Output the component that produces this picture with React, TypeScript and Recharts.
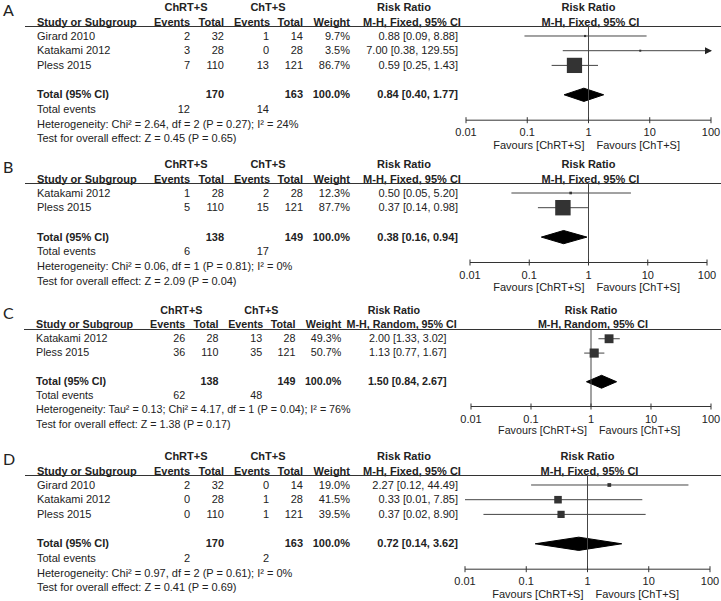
import React from "react"
import { ComposedChart, XAxis, YAxis, Scatter, Line, Area, ReferenceLine } from "recharts"

// ---- data ----
const panelLetters = ["A", "B", "C", "D"]
const groupTx = "ChRT+S"
const groupCt = "ChT+S"
const methodLabels = ["M-H, Fixed, 95% CI", "M-H, Fixed, 95% CI", "M-H, Random, 95% CI", "M-H, Fixed, 95% CI"]
const xTicks = [0.01, 0.1, 1, 10, 100]

const studiesA = ["Girard 2010", "Katakami 2012", "Pless 2015"]
const eventsTxA = [2, 3, 7]
const totalTxA = [32, 28, 110]
const eventsCtA = [1, 0, 13]
const totalCtA = [14, 28, 121]
const weightA = [9.7, 3.5, 86.7]
const rrA = [0.88, 7.0, 0.59]
const lowA = [0.09, 0.38, 0.25]
const highA = [8.88, 129.55, 1.43]

const studiesB = ["Katakami 2012", "Pless 2015"]
const eventsTxB = [1, 5]
const totalTxB = [28, 110]
const eventsCtB = [2, 15]
const totalCtB = [28, 121]
const weightB = [12.3, 87.7]
const rrB = [0.5, 0.37]
const lowB = [0.05, 0.14]
const highB = [5.2, 0.98]

const studiesC = ["Katakami 2012", "Pless 2015"]
const eventsTxC = [26, 36]
const totalTxC = [28, 110]
const eventsCtC = [13, 35]
const totalCtC = [28, 121]
const weightC = [49.3, 50.7]
const rrC = [2.0, 1.13]
const lowC = [1.33, 0.77]
const highC = [3.02, 1.67]

const studiesD = ["Girard 2010", "Katakami 2012", "Pless 2015"]
const eventsTxD = [2, 0, 0]
const totalTxD = [32, 28, 110]
const eventsCtD = [0, 1, 1]
const totalCtD = [14, 28, 121]
const weightD = [19.0, 41.5, 39.5]
const rrD = [2.27, 0.33, 0.37]
const lowD = [0.12, 0.01, 0.02]
const highD = [44.49, 7.85, 8.9]

// pooled rows, one per panel
const pooledTotalTx = [170, 138, 138, 170]
const pooledTotalCt = [163, 149, 149, 163]
const pooledEventsTx = [12, 6, 62, 2]
const pooledEventsCt = [14, 17, 48, 2]
const pooledRR = [0.84, 0.38, 1.5, 0.72]
const pooledLow = [0.4, 0.16, 0.84, 0.14]
const pooledHigh = [1.77, 0.94, 2.67, 3.62]
const heterogeneity = [
  "Heterogeneity: Chi² = 2.64, df = 2 (P = 0.27); I² = 24%",
  "Heterogeneity: Chi² = 0.06, df = 1 (P = 0.81); I² = 0%",
  "Heterogeneity: Tau² = 0.13; Chi² = 4.17, df = 1 (P = 0.04); I² = 76%",
  "Heterogeneity: Chi² = 0.97, df = 2 (P = 0.61); I² = 0%",
]
const overallEffect = [
  "Test for overall effect: Z = 0.45 (P = 0.65)",
  "Test for overall effect: Z = 2.09 (P = 0.04)",
  "Test for overall effect: Z = 1.38 (P = 0.17)",
  "Test for overall effect: Z = 0.41 (P = 0.69)",
]

interface Panel {
  studies: string[]
  evTx: number[]
  totTx: number[]
  evCt: number[]
  totCt: number[]
  weight: number[]
  rr: number[]
  low: number[]
  high: number[]
}

const panels: Panel[] = [
  { studies: studiesA, evTx: eventsTxA, totTx: totalTxA, evCt: eventsCtA, totCt: totalCtA, weight: weightA, rr: rrA, low: lowA, high: highA },
  { studies: studiesB, evTx: eventsTxB, totTx: totalTxB, evCt: eventsCtB, totCt: totalCtB, weight: weightB, rr: rrB, low: lowB, high: highB },
  { studies: studiesC, evTx: eventsTxC, totTx: totalTxC, evCt: eventsCtC, totCt: totalCtC, weight: weightC, rr: rrC, low: lowC, high: highC },
  { studies: studiesD, evTx: eventsTxD, totTx: totalTxD, evCt: eventsCtD, totCt: totalCtD, weight: weightD, rr: rrD, low: lowD, high: highD },
]

// ---- layout ----
const W = 721
const H = 601
const INK = "#222"
const ROW = 14.7
const PAD = 14
const AXIS_H = 24
const X_MIN = 0.01
const X_MAX = 100

interface Layout { top: number; k: number; axL: number; axR: number }
const layouts: Layout[] = [
  { top: 7, k: 1, axL: 466, axR: 711 },
  { top: 164, k: 1, axL: 470, axR: 707 },
  { top: 310, k: 0.975, axL: 471, axR: 711 },
  { top: 456, k: 1, axL: 465, axR: 710 },
]
// right edges of the numeric columns
const cols = [190, 224, 269, 303, 350, 458]

const ci = (v: number, lo: number, hi: number) => `${v.toFixed(2)} [${lo.toFixed(2)}, ${hi.toFixed(2)}]`
const boxSide = (w: number) => Math.max(2, (17 * w) / 100 + 0.5)

function Txt({ x, y, children, align = "left", bold = false, size = 11 }: any) {
  const style: React.CSSProperties = {
    position: "absolute",
    top: y - 6.5,
    lineHeight: "13px",
    whiteSpace: "nowrap",
    fontSize: size,
    fontWeight: bold ? 700 : 400,
    color: INK,
  }
  if (align === "left") style.left = x
  else if (align === "right") style.right = W - x
  else {
    style.left = x - 100
    style.width = 200
    style.textAlign = "center"
  }
  return <div style={style}>{children}</div>
}

function AxisTick({ x, y, payload }: any) {
  return (
    <g>
      <line x1={x} x2={x} y1={y - 3} y2={y + 3} stroke="#333" />
      <text x={x} y={y + 16} textAnchor="middle" fontSize={11} fill={INK} fontFamily="Liberation Sans, Arial, sans-serif">
        {String(payload.value)}
      </text>
    </g>
  )
}

function Forest({ panel, idx, lay }: { panel: Panel; idx: number; lay: Layout }) {
  const n = panel.studies.length
  const sp = ROW * lay.k
  const lineY = lay.top + 19 * lay.k
  const row0 = lay.top + 29 * lay.k
  const axisY = row0 + (n + 3) * sp - 4 * lay.k
  const totalRow = n + 1
  const width = lay.axR - lay.axL + 2 * PAD
  const height = axisY - lineY + AXIS_H
  const yDomain = [(lineY - row0) / sp, (axisY - row0) / sp]
  const h = 0.45

  const boxes = panel.rr.map((v, i) => ({ x: v, y: i, w: panel.weight[i] }))
  const diamond = [
    { x: pooledLow[idx], band: [totalRow, totalRow] },
    { x: pooledRR[idx], band: [totalRow - h, totalRow + h] },
    { x: pooledHigh[idx], band: [totalRow, totalRow] },
  ]

  const arrowDot = (props: any) => {
    const { cx, cy, payload, index } = props
    if (!payload.arrow) return <g key={`d${index}`} />
    return <path key={`d${index}`} d={`M${cx + 1},${cy} L${cx - 6},${cy - 3.5} L${cx - 6},${cy + 3.5} Z`} fill={INK} />
  }

  return (
    <div style={{ position: "absolute", left: lay.axL - PAD, top: lineY }}>
      <ComposedChart width={width} height={height} margin={{ top: 0, right: PAD, bottom: 0, left: PAD }}>
        <XAxis
          type="number"
          dataKey="x"
          scale="log"
          domain={[X_MIN, X_MAX]}
          ticks={xTicks}
          interval={0}
          tickSize={0}
          tickMargin={0}
          tickLine={false}
          stroke="#333"
          height={AXIS_H}
          tick={(p: any) => <AxisTick {...p} />}
        />
        <YAxis type="number" dataKey="y" domain={yDomain} reversed hide />
        <ReferenceLine x={1} stroke="#444" strokeWidth={1} />
        {panel.low.map((lo, i) => (
          <Line
            key={`ci${i}`}
            data={[
              { x: Math.max(lo, X_MIN), y: i, arrow: false },
              { x: Math.min(panel.high[i], X_MAX), y: i, arrow: panel.high[i] > X_MAX },
            ]}
            dataKey="y"
            type="linear"
            stroke="#444"
            strokeWidth={1}
            dot={arrowDot}
            activeDot={false}
            isAnimationActive={false}
          />
        ))}
        <Area
          data={diamond}
          dataKey="band"
          type="linear"
          stroke="#000"
          strokeWidth={1}
          fill="#000"
          fillOpacity={1}
          dot={false}
          activeDot={false}
          isAnimationActive={false}
        />
        <Scatter
          data={boxes}
          dataKey="y"
          isAnimationActive={false}
          shape={(props: any) => {
            const s = boxSide(props.payload.w)
            return <rect x={props.cx - s / 2} y={props.cy - s / 2} width={s} height={s} fill="#333" />
          }}
        />
      </ComposedChart>
    </div>
  )
}

function PanelTable({ panel, idx, lay }: { panel: Panel; idx: number; lay: Layout }) {
  const k = lay.k
  const fs = 11 * k
  const n = panel.studies.length
  const sp = ROW * k
  const t = lay.top
  const row0 = t + 29 * k
  const rowY = (i: number) => row0 + i * sp
  const axisY = rowY(n + 3) - 4 * k
  const x1 = (lay.axL + lay.axR) / 2
  const c = cols.map((v) => v * k)
  const totRow = rowY(n + 1)

  return (
    <>
      <div style={{ position: "absolute", left: 3, top: t + 3 - 10, fontSize: 16, lineHeight: "20px", fontFamily: "Lato, sans-serif", color: INK }}>
        {panelLetters[idx]}
      </div>
      <Txt x={186 * k} y={t} align="center" bold size={fs}>{groupTx}</Txt>
      <Txt x={268 * k} y={t} align="center" bold size={fs}>{groupCt}</Txt>
      <Txt x={404 * k} y={t} align="center" bold size={fs}>Risk Ratio</Txt>
      <Txt x={x1} y={t} align="center" bold size={fs}>Risk Ratio</Txt>

      <Txt x={37 * k} y={t + 15 * k} bold size={fs}>Study or Subgroup</Txt>
      <Txt x={c[0]} y={t + 15 * k} align="right" bold size={fs}>Events</Txt>
      <Txt x={c[1]} y={t + 15 * k} align="right" bold size={fs}>Total</Txt>
      <Txt x={c[2] + 1} y={t + 15 * k} align="right" bold size={fs}>Events</Txt>
      <Txt x={c[3]} y={t + 15 * k} align="right" bold size={fs}>Total</Txt>
      <Txt x={c[4]} y={t + 15 * k} align="right" bold size={fs}>Weight</Txt>
      <Txt x={412 * k} y={t + 15 * k} align="center" bold size={fs}>{methodLabels[idx]}</Txt>
      <Txt x={x1 + 2} y={t + 15 * k} align="center" bold size={fs}>{methodLabels[idx]}</Txt>
      <div style={{ position: "absolute", left: 25 * k, top: t + 19 * k, width: W - 25 * k, height: 1, background: "#333" }} />

      {panel.studies.map((s, i) => (
        <React.Fragment key={s}>
          <Txt x={37 * k} y={rowY(i)} size={fs}>{s}</Txt>
          <Txt x={c[0]} y={rowY(i)} align="right" size={fs}>{panel.evTx[i]}</Txt>
          <Txt x={c[1]} y={rowY(i)} align="right" size={fs}>{panel.totTx[i]}</Txt>
          <Txt x={c[2]} y={rowY(i)} align="right" size={fs}>{panel.evCt[i]}</Txt>
          <Txt x={c[3]} y={rowY(i)} align="right" size={fs}>{panel.totCt[i]}</Txt>
          <Txt x={c[4]} y={rowY(i)} align="right" size={fs}>{panel.weight[i].toFixed(1)}%</Txt>
          <Txt x={c[5]} y={rowY(i)} align="right" size={fs}>{ci(panel.rr[i], panel.low[i], panel.high[i])}</Txt>
        </React.Fragment>
      ))}

      <Txt x={37 * k} y={totRow} bold size={fs}>Total (95% CI)</Txt>
      <Txt x={c[1]} y={totRow} align="right" bold size={fs}>{pooledTotalTx[idx]}</Txt>
      <Txt x={c[3]} y={totRow} align="right" bold size={fs}>{pooledTotalCt[idx]}</Txt>
      <Txt x={c[4]} y={totRow} align="right" bold size={fs}>100.0%</Txt>
      <Txt x={c[5]} y={totRow} align="right" bold size={fs}>{ci(pooledRR[idx], pooledLow[idx], pooledHigh[idx])}</Txt>

      <Txt x={37 * k} y={rowY(n + 2)} size={fs}>Total events</Txt>
      <Txt x={c[0]} y={rowY(n + 2)} align="right" size={fs}>{pooledEventsTx[idx]}</Txt>
      <Txt x={c[2]} y={rowY(n + 2)} align="right" size={fs}>{pooledEventsCt[idx]}</Txt>
      <Txt x={37 * k} y={rowY(n + 3)} size={fs}>{heterogeneity[idx]}</Txt>
      <Txt x={37 * k} y={rowY(n + 4)} size={fs}>{overallEffect[idx]}</Txt>

      <Txt x={x1 - 4} y={axisY + 25 * k} align="right" size={fs}>Favours [{groupTx}]</Txt>
      <Txt x={x1 + 8} y={axisY + 25 * k} size={fs}>Favours [{groupCt}]</Txt>
    </>
  )
}

export default function App() {
  return (
    <div
      style={{
        position: "absolute",
        left: 0,
        top: 0,
        width: W,
        height: H,
        background: "#fff",
        overflow: "hidden",
        fontFamily: "'Liberation Sans', Arial, sans-serif",
      }}
    >
      {panels.map((p, i) => (
        <React.Fragment key={i}>
          <PanelTable panel={p} idx={i} lay={layouts[i]} />
          <Forest panel={p} idx={i} lay={layouts[i]} />
        </React.Fragment>
      ))}
    </div>
  )
}
